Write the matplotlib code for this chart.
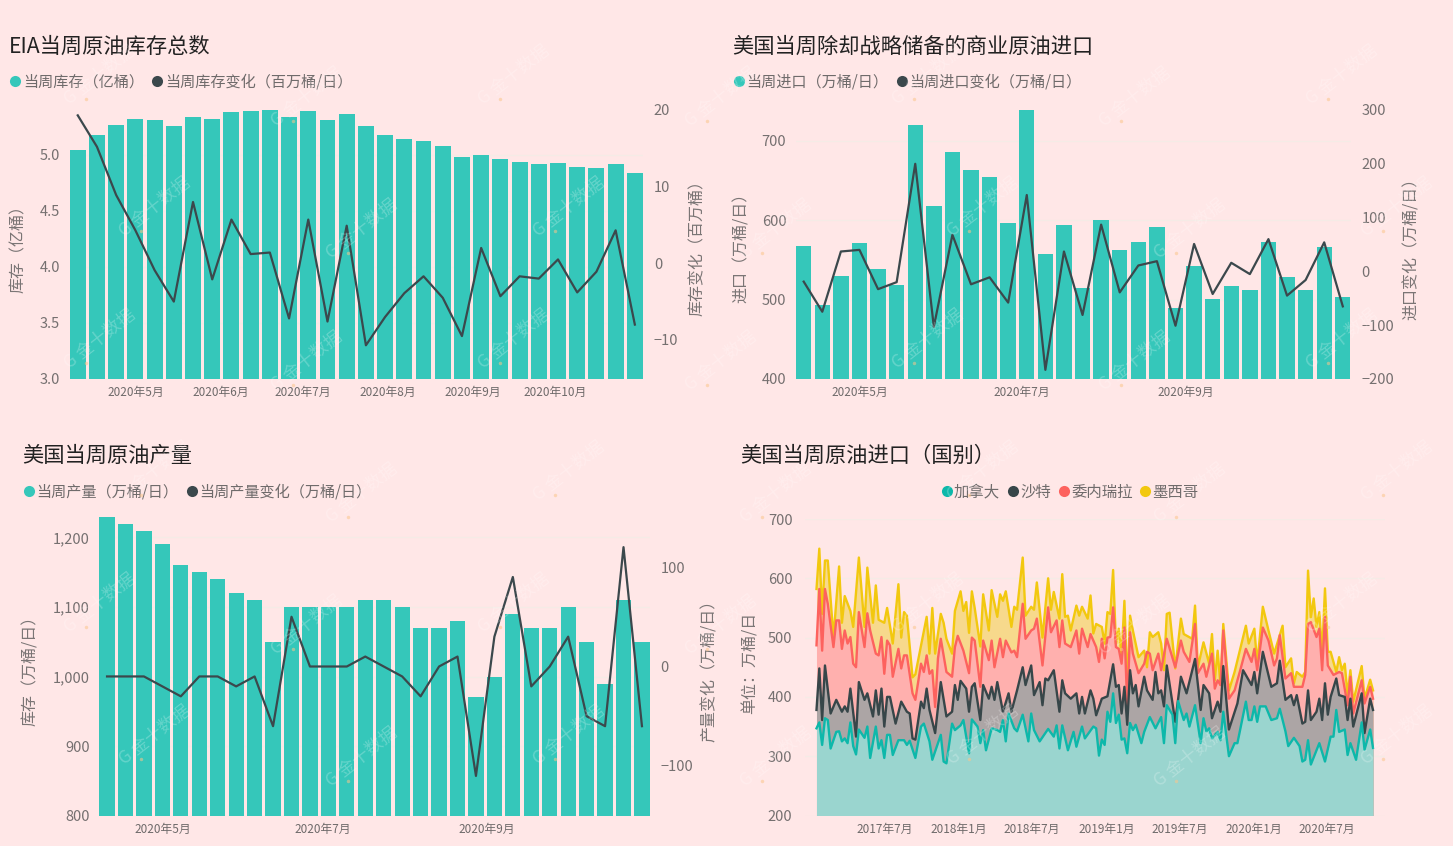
import numpy as np
import datetime as dt
import matplotlib
matplotlib.use("Agg")
import matplotlib.pyplot as plt
import matplotlib.dates as mdates
from matplotlib.lines import Line2D

plt.rcParams['font.family'] = ['Noto Sans CJK SC', 'DejaVu Sans']

W, H = 1453, 846
BG = '#FFE7E7'
BAR = '#35C7BA'
DARK = '#3B484C'
TICK = '#757070'
GRID = '#F5EBE6'

# ---------- weekly bar + line panels ----------
first_week = dt.date(2020, 4, 10)
stock = [5.04, 5.18, 5.27, 5.32, 5.31, 5.26, 5.34, 5.32, 5.38, 5.39, 5.41, 5.34, 5.39, 5.31, 5.36,
         5.26, 5.18, 5.14, 5.12, 5.08, 4.98, 5.00, 4.96, 4.94, 4.92, 4.93, 4.89, 4.88, 4.92, 4.84]
stock_change = [19.3, 15.2, 8.9, 4.3, -0.9, -5, 8, -2.1, 5.7, 1.2, 1.4, -7.2, 5.7, -7.6, 4.9,
                -10.7, -7, -3.9, -1.7, -4.5, -9.5, 2, -4.3, -1.7, -2, 0.5, -3.8, -1.1, 4.3, -8]
imports = [568, 493, 530, 571, 539, 519, 720, 618, 686, 664, 654, 597, 739, 557, 594,
           515, 601, 562, 573, 592, 490, 543, 501, 517, 512, 573, 529, 512, 566, 503]
imports_change = [-19, -75, 37, 40, -33, -20, 200, -103, 68, -24, -11, -58, 142, -183, 37,
                  -81, 87, -39, 11, 19, -101, 51, -42, 16, -5, 60, -45, -16, 54, -65]
output = [1229, 1220, 1210, 1190, 1160, 1150, 1140, 1120, 1110, 1050, 1100, 1100, 1100, 1100, 1110,
          1110, 1100, 1070, 1070, 1080, 970, 1000, 1090, 1070, 1070, 1100, 1050, 990, 1110, 1050]
output_change = [-10, -10, -10, -20, -30, -10, -10, -20, -10, -60, 50, 0, 0, 0, 10,
                 0, -10, -30, 0, 10, -110, 30, 90, -20, 0, 30, -50, -60, 120, -60]

# ---------- stacked imports by country: (week index since 2017-01-13, stacked top value) ----------
first_week_country = dt.date(2017, 1, 13)
canada_top = [(0,347),(1,357),(2,319),(3,364),(4,361),(5,313),(7,341),(8,342),(9,325),(10,330),(11,322),(12,357),(13,317),(14,303),(15,345),(17,331),(18,350),(19,297),(21,350),(22,313),(23,327),(24,297),(25,336),(26,336),(27,302),(29,327),(31,327),(32,319),(33,326),(35,297),(37,350),(38,355),(40,325),(41,294),(44,336),(45,291),(46,288),(48,355),(49,344),(51,352),(52,361),(54,305),(55,362),(57,350),(58,322),(59,344),(60,310),(62,347),(64,344),(65,341),(66,361),(67,325),(68,372),(70,347),(71,342),(73,370),(75,325),(76,372),(77,344),(79,325),(82,346),(84,333),(85,352),(86,313),(87,352),(89,310),(91,341),(92,316),(94,350),(95,330),(98,350),(99,347),(100,301),
              (101,328),(102,319),(103,375),(104,358),(105,406),(106,356),(107,370),(108,328),(109,330),(110,305),(111,356),(112,344),(113,353),(115,322),(116,341),(118,366),(120,347),(122,366),(123,322),(124,386),(126,370),(127,322),(128,393),(130,361),(131,372),(132,350),(134,386),(136,322),(137,364),(138,342),(139,347),(140,330),(142,341),(143,327),(144,375),(146,300),(148,322),(149,322),(152,392),(153,361),(154,361),(155,384),(156,358),(157,384),(159,384),(161,361),(163,364),(164,380),(166,342),(167,317),(169,331),(171,317),(172,291),(173,294),(174,327),(175,286),(178,322),(180,291),(182,333),(183,333),(184,378),(185,341),(187,345),(188,302),(189,322),(191,294),(193,357),(194,311),(196,345),(197,314)]
saudi_top = [(0,378),(1,448),(2,361),(3,453),(5,372),(7,395),(9,375),(10,384),(11,375),(12,414),(14,333),(15,425),(17,395),(18,406),(20,367),(21,411),(22,370),(23,414),(24,350),(25,400),(26,400),(28,355),(30,392),(32,375),(33,372),(34,330),(35,328),(37,392),(38,381),(39,414),(40,378),(42,339),(44,425),(46,367),(48,375),(49,420),(50,395),(51,427),(53,414),(54,375),(55,417),(56,423),(58,361),(59,420),(61,397),(62,417),(63,395),(64,425),(66,375),(68,406),(69,375),(71,411),(73,450),(74,420),(76,453),(77,403),(79,425),(80,386),(81,431),(82,428),(84,445),(86,375),(87,428),(88,406),(90,397),(92,406),(93,372),(94,400),(95,372),(97,411),(98,397),(99,369),
             (101,397),(103,401),(105,455),(106,417),(107,420),(108,372),(109,417),(110,353),(111,445),(112,406),(113,420),(114,384),(116,434),(117,411),(119,395),(120,442),(121,406),(122,411),(123,384),(124,453),(127,358),(129,434),(131,406),(134,464),(136,378),(137,420),(139,406),(140,364),(142,392),(143,375),(144,452),(146,345),(149,389),(151,445),(154,420),(155,442),(156,406),(158,476),(161,417),(163,423),(164,461),(166,395),(168,403),(169,386),(170,403),(172,355),(173,358),(174,411),(175,361),(177,375),(178,397),(179,361),(180,423),(181,370),(182,400),(184,431),(185,403),(187,400),(188,361),(189,397),(190,350),(193,406),(194,339),(196,397),(197,378)]
venezuela_top = [(0,487),(1,582),(2,478),(3,582),(4,557),(6,484),(7,529),(8,529),(9,481),(10,512),(11,490),(12,501),(13,456),(14,450),(15,543),(17,484),(18,541),(19,512),(21,473),(22,470),(23,501),(24,439),(25,495),(26,487),(27,434),(29,481),(30,448),(31,470),(32,470),(34,406),(35,395),(37,456),(38,442),(39,470),(40,439),(41,445),(42,383),(43,465),(44,498),(46,442),(48,434),(49,484),(50,503),(52,478),(54,440),(55,500),(56,495),(58,417),(59,495),(61,462),(62,495),(63,450),(65,498),(66,467),(67,495),(69,475),(70,478),(71,467),(73,557),(74,498),(76,512),(77,515),(78,532),(80,453),(82,551),(83,509),(85,529),(86,484),(87,529),(88,490),(90,484),(92,512),(93,473),(94,515),(96,484),(97,506),(99,484),
                 (100,459),(101,498),(102,465),(103,500),(104,501),(105,551),(106,484),(107,481),(108,456),(109,517),(110,383),(111,509),(112,473),(114,440),(116,456),(117,476),(118,473),(119,445),(121,473),(122,445),(124,498),(127,450),(129,495),(130,476),(132,459),(134,523),(135,440),(137,456),(138,434),(140,473),(141,414),(142,428),(143,420),(144,512),(146,397),(148,411),(150,445),(152,481),(154,459),(155,481),(156,445),(158,517),(160,495),(162,453),(163,465),(164,504),(166,431),(168,440),(169,417),(172,417),(173,437),(174,523),(175,526),(177,501),(178,515),(179,445),(180,535),(181,453),(183,437),(185,442),(186,440),(188,386),(189,434),(190,372),(193,428),(194,389),(196,417),(197,397)]
mexico_top = [(0,582),(1,650),(2,540),(3,630),(4,630),(6,500),(8,620),(9,525),(10,570),(12,545),(13,518),(15,635),(17,518),(18,618),(20,525),(21,588),(22,530),(24,525),(25,550),(27,490),(29,590),(30,500),(31,543),(32,537),(34,433),(35,438),(39,535),(40,473),(41,550),(42,473),(44,540),(45,525),(46,498),(48,473),(49,545),(51,578),(52,545),(53,560),(54,508),(55,578),(56,550),(58,485),(59,573),(61,512),(62,580),(64,535),(65,573),(66,562),(67,578),(69,518),(70,552),(71,547),(73,635),(74,537),(76,552),(77,547),(78,593),(80,500),(82,600),(83,547),(84,577),(86,532),(87,607),(88,535),(89,537),(90,512),(92,554),(93,537),(94,552),(96,532),(97,571),(98,507),(99,523),
              (101,518),(102,490),(103,543),(104,540),(105,614),(106,490),(107,515),(108,470),(109,562),(110,417),(111,537),(112,512),(114,467),(116,478),(117,450),(118,509),(119,501),(121,509),(122,490),(123,445),(124,540),(125,542),(127,448),(129,532),(130,506),(133,498),(134,554),(135,450),(137,492),(139,456),(140,506),(141,428),(142,478),(143,420),(144,523),(146,411),(148,442),(150,481),(152,520),(153,490),(155,515),(156,456),(158,552),(160,512),(162,473),(165,520),(166,450),(168,465),(169,423),(170,442),(172,434),(173,442),(174,613),(175,534),(176,566),(177,518),(178,543),(179,473),(180,583),(181,476),(182,476),(184,442),(185,467),(186,445),(187,456),(188,403),(189,445),(190,392),(193,452),(194,397),(196,429),(197,411)]
country_names = ['加拿大', '沙特', '委内瑞拉', '墨西哥']
country_ticks = ['2017年7月', '2018年1月', '2018年7月', '2019年1月', '2019年7月', '2020年1月', '2020年7月']

fig = plt.figure(figsize=(W / 100, H / 100), dpi=100, facecolor=BG)


def make_ax(x0, x1, ytop, ybot):
    ax = fig.add_axes([x0 / W, 1 - ybot / H, (x1 - x0) / W, (ybot - ytop) / H], facecolor='none')
    for s in ax.spines.values():
        s.set_visible(False)
    return ax


def label(x, y, s, size=10.5, color=TICK, **kw):
    fig.text(x / W, 1 - y / H, s, fontsize=size, color=color, va='center', **kw)


def dot(x, y, color):
    fig.add_artist(Line2D([x / W], [1 - y / H], marker='o', ms=8, color=color, mew=0,
                          transform=fig.transFigure))


def weekly_panel(box, left, right, lim_l, lim_r, ticks_l, ticks_r, fmt, months):
    ax = make_ax(*box)
    d0 = mdates.date2num(first_week)
    x = d0 + 7 * np.arange(len(left))
    ax.bar(x, left, width=5.8, color=BAR, zorder=2)
    ax.set_xlim(d0 - 2.9, x[-1] + 2.9)
    ax.set_ylim(*lim_l)
    ax.set_yticks(ticks_l)
    ax.set_yticklabels([fmt(t) for t in ticks_l])
    ax.grid(axis='y', color=GRID, lw=1, zorder=0)
    ax.set_axisbelow(True)
    ax.set_xticks([mdates.date2num(dt.date(2020, m, 1)) for m in months])
    ax.set_xticklabels([f'2020年{m}月' for m in months])
    ax.tick_params(axis='x', length=0, labelsize=8.5, labelcolor='#6E6A6A', pad=5)
    ax.tick_params(axis='y', length=0, labelsize=10.5, labelcolor=TICK, pad=7)
    ax2 = ax.twinx()
    ax2.patch.set_visible(False)
    for s in ax2.spines.values():
        s.set_visible(False)
    ax2.plot(x, right, color=DARK, lw=1.6, zorder=5)
    ax2.set_ylim(*lim_r)
    ax2.set_yticks(ticks_r)
    ax2.tick_params(axis='y', length=0, labelsize=10.5, labelcolor=TICK, pad=8)
    return ax


weekly_panel((69.8, 642.8, 110, 379), stock, stock_change, (3, 5.4), (-15.1, 20),
             [3, 3.5, 4, 4.5, 5], [-10, 0, 10, 20], lambda t: f'{t:.1f}', [5, 6, 7, 8, 9, 10])
weekly_panel((796, 1350.5, 110, 379), imports, imports_change, (400, 739), (-200, 300),
             [400, 500, 600, 700], [-200, -100, 0, 100, 200, 300], lambda t: f'{t}', [5, 7, 9])
weekly_panel((99.4, 649.6, 517.3, 815.7), output, output_change, (800, 1229), (-150, 150),
             [800, 900, 1000, 1100, 1200], [-100, 0, 100], lambda t: f'{t:,}', [5, 7, 9])

# ---------- stacked area panel ----------
ax4 = make_ax(805, 1385, 519, 815.5)
d0c = mdates.date2num(first_week_country)
layers = [(mexico_top, '#F7D98C', '#F2C80F'), (venezuela_top, '#FFB0AE', '#FD625E'),
          (saudi_top, '#ACA5A5', '#374649'), (canada_top, '#9AD5CF', '#0DB8AA')]
for pts, fill, _ in layers:
    w, v = np.array(pts, dtype=float).T
    ax4.fill_between(d0c + 7 * w, v, 200, color=fill, lw=0, zorder=2)
for pts, _, line in layers:
    w, v = np.array(pts, dtype=float).T
    ax4.plot(d0c + 7 * w, v, color=line, lw=1.7, zorder=3)
px_week = 2.827
ax4.set_xlim(d0c - 11.5 / px_week * 7, d0c + 7 * 197 + 12 / px_week * 7)
ax4.set_ylim(200, 700)
ax4.set_yticks([200, 300, 400, 500, 600, 700])
ax4.grid(axis='y', color=GRID, lw=1, zorder=0)
ax4.set_axisbelow(True)
tick_dates = [dt.date(2017, 7, 1), dt.date(2018, 1, 1), dt.date(2018, 7, 1), dt.date(2019, 1, 1),
              dt.date(2019, 7, 1), dt.date(2020, 1, 1), dt.date(2020, 7, 1)]
ax4.set_xticks([mdates.date2num(d) for d in tick_dates])
ax4.set_xticklabels(country_ticks)
ax4.tick_params(axis='x', length=0, labelsize=8.5, labelcolor='#6E6A6A', pad=5)
ax4.tick_params(axis='y', length=0, labelsize=10.5, labelcolor=TICK, pad=9)

# ---------- titles, legends, axis titles ----------
TITLE = '#222222'
for x, y, s in [(9, 47, 'EIA当周原油库存总数'), (732, 47, '美国当周除却战略储备的商业原油进口'),
                (22, 456, '美国当周原油产量'), (740, 456, '美国当周原油进口（国别）')]:
    label(x, y, s, size=15.3, color=TITLE, ha='left')

LEG = '#6F6B6B'
for dx, tx, y, c, s in [(15, 23, 82, BAR, '当周库存（亿桶）'), (157, 165, 82, DARK, '当周库存变化（百万桶/日）'),
                        (739, 746, 82, BAR, '当周进口（万桶/日）'), (902, 909, 82, DARK, '当周进口变化（万桶/日）'),
                        (29, 36, 492, BAR, '当周产量（万桶/日）'), (192, 199, 492, DARK, '当周产量变化（万桶/日）')]:
    dot(dx, y - 1, c)
    label(tx, y, s, size=10.9, color=LEG, ha='left')
for dx, tx, c, s in zip([947, 1013, 1064, 1145], [954, 1020, 1071, 1152],
                        ['#0DB8AA', '#374649', '#FD625E', '#F2C80F'], country_names):
    dot(dx, 491, c)
    label(tx, 492, s, size=11.1, color=LEG, ha='left')

for x, y, s in [(18, 245, '库存（亿桶）'), (697, 244, '库存变化（百万桶）'),
                (741, 244, '进口（万桶/日）'), (1411, 245, '进口变化（万桶/日）'),
                (31, 667, '库存（万桶/日）'), (709, 667, '产量变化（万桶/日）'),
                (750, 663, '单位：万桶/日')]:
    label(x, y, s, size=11.5, color='#7A7575', rotation=90, ha='center')

# ---------- faint watermark ----------
for row in range(6):
    for col in range(7):
        mx = 100 + col * 207 + (row % 2) * 55
        my = 75 + row * 132 + (col % 2) * 22
        fig.text(mx / W, 1 - my / H, 'G 金十数据', fontsize=12.5, color='white', alpha=0.24,
                 rotation=38, ha='center', va='center', zorder=10)
        fig.add_artist(Line2D([(mx - 14) / W], [1 - (my + 24) / H], marker='o', ms=2.5, color='#FBC58A',
                              alpha=0.55, mew=0, transform=fig.transFigure, zorder=10))

fig.savefig('out.png', dpi=100, facecolor=BG)
